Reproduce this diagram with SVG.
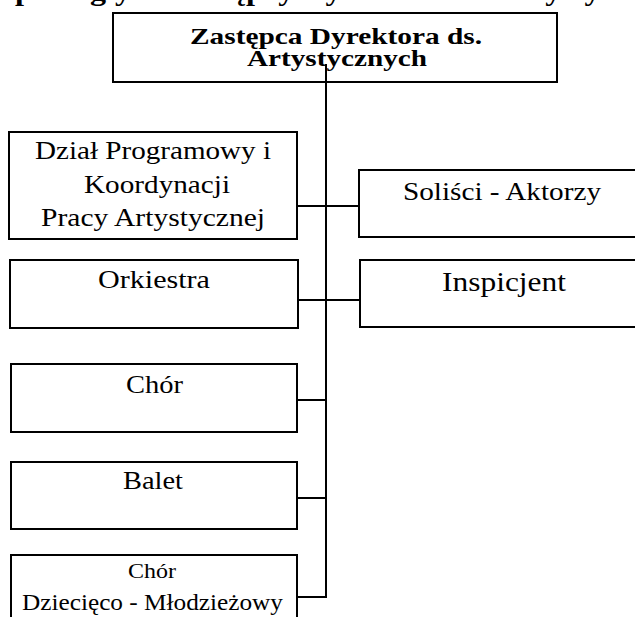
<svg xmlns="http://www.w3.org/2000/svg" width="635" height="617" viewBox="0 0 635 617">
<style>
.box{fill:#fff;stroke:#000;stroke-width:2}
.t{font-family:"Liberation Serif","Times New Roman",serif;fill:#000}
.b{font-weight:bold}
.f28{font-size:28px}
.f27{font-size:27px}
.f25{font-size:25px}
.f24{font-size:24px}
.f23{font-size:23px}
.f21{font-size:21px}
.ln{stroke:#000;stroke-width:2;fill:none}
</style>
<rect width="635" height="617" fill="#fff"/>
<g font-family="Liberation Serif, Times New Roman, serif">
<text id="title" class="t b f28" x="15" y="0" textLength="680" lengthAdjust="spacingAndGlyphs">podległych Zastępcy Dyrektora ds. Artystycznych</text>
<g id="node-zastepca">
<rect class="box" x="113" y="13" width="444" height="69"/>
<text class="t b f24" x="190" y="44" textLength="292" lengthAdjust="spacingAndGlyphs">Zastępca Dyrektora ds.</text>
<text class="t b f24" x="247" y="66" textLength="180" lengthAdjust="spacingAndGlyphs">Artystycznych</text>
</g>
<g id="node-dzial">
<rect class="box" x="9" y="132" width="288" height="107"/>
<text class="t f25" x="35" y="159" textLength="236" lengthAdjust="spacingAndGlyphs">Dział Programowy i</text>
<text class="t f25" x="84" y="193" textLength="146" lengthAdjust="spacingAndGlyphs">Koordynacji</text>
<text class="t f25" x="41" y="226" textLength="224" lengthAdjust="spacingAndGlyphs">Pracy Artystycznej</text>
</g>
<g id="node-solisci">
<rect class="box" x="359" y="170" width="290" height="67"/>
<text class="t f25" x="403" y="200" textLength="198" lengthAdjust="spacingAndGlyphs">Soliści - Aktorzy</text>
</g>
<g id="node-orkiestra">
<rect class="box" x="10" y="260" width="288" height="68"/>
<text class="t f25" x="98" y="288" textLength="112" lengthAdjust="spacingAndGlyphs">Orkiestra</text>
</g>
<g id="node-inspicjent">
<rect class="box" x="360" y="260" width="290" height="67"/>
<text class="t f27" x="442" y="291" textLength="124" lengthAdjust="spacingAndGlyphs">Inspicjent</text>
</g>
<g id="node-chor">
<rect class="box" x="11" y="364" width="286" height="68"/>
<text class="t f25" x="126" y="393" textLength="57" lengthAdjust="spacingAndGlyphs">Chór</text>
</g>
<g id="node-balet">
<rect class="box" x="11" y="462" width="286" height="67"/>
<text class="t f25" x="123" y="489" textLength="60" lengthAdjust="spacingAndGlyphs">Balet</text>
</g>
<g id="node-chor-dzieciecy">
<rect class="box" x="11" y="555" width="286" height="80"/>
<text class="t f21" x="128" y="578" textLength="48" lengthAdjust="spacingAndGlyphs">Chór</text>
<text class="t f23" x="22" y="610" textLength="261" lengthAdjust="spacingAndGlyphs">Dziecięco - Młodzieżowy</text>
</g>
</g>
<g id="connectors">
<line class="ln" x1="326" y1="64" x2="326" y2="598"/>
<line class="ln" x1="297" y1="206" x2="359" y2="206"/>
<line class="ln" x1="298" y1="300" x2="360" y2="300"/>
<line class="ln" x1="297" y1="400" x2="327" y2="400"/>
<line class="ln" x1="297" y1="498" x2="327" y2="498"/>
<line class="ln" x1="297" y1="597" x2="327" y2="597"/>
</g>
</svg>
